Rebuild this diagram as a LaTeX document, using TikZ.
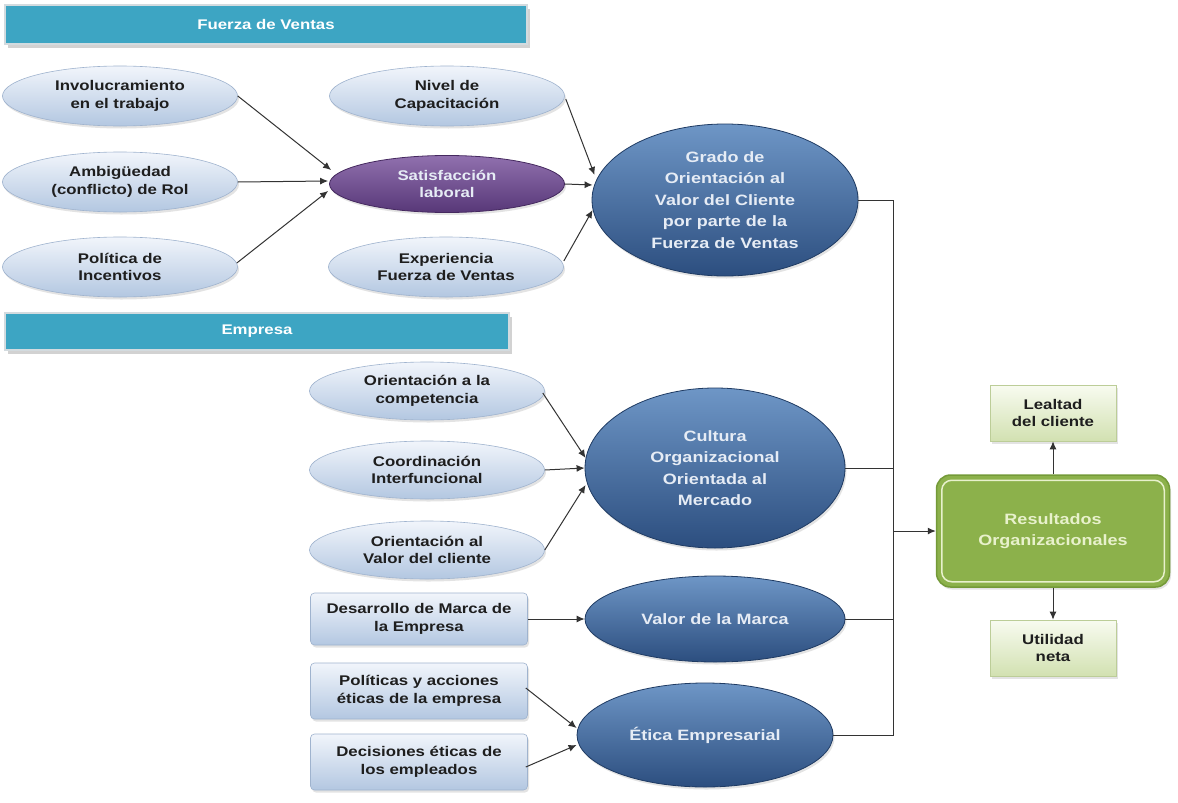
\documentclass[tikz,border=0pt]{standalone}
\usepackage{fontspec}
\setmainfont{Liberation Sans}[FakeStretch=1.2]
\usetikzlibrary{shapes.geometric,arrows.meta,shadows,calc}
\definecolor{hdrteal}{HTML}{3DA5C3}
\definecolor{hdrfrm}{HTML}{D3DBDF}
\definecolor{ltop}{HTML}{F1F5FB}
\definecolor{lbot}{HTML}{B3C7E1}
\definecolor{lbord}{HTML}{9FB3CE}
\definecolor{dtop}{HTML}{6E96C6}
\definecolor{dbot}{HTML}{2C4E7F}
\definecolor{dbord}{HTML}{1F3B63}
\definecolor{dtxt}{HTML}{E6ECF5}
\definecolor{ptop}{HTML}{9070AE}
\definecolor{pbot}{HTML}{583878}
\definecolor{pbord}{HTML}{45295F}
\definecolor{grn}{HTML}{8CB14B}
\definecolor{grnbord}{HTML}{749A38}
\definecolor{grnin}{HTML}{E8F1CC}
\definecolor{gtop}{HTML}{F8FBF0}
\definecolor{gbot}{HTML}{D2E1B1}
\definecolor{gbord}{HTML}{BCCD98}
\definecolor{txtd}{HTML}{1E1E1E}
\definecolor{linec}{HTML}{333333}
\newcommand\lightfnt{\bfseries\fontsize{14}{17.5}\selectfont}
\newcommand\darkfnt{\bfseries\fontsize{15}{21.5}\selectfont}
\newcommand\hdrfnt{\bfseries\fontsize{14}{17}\selectfont}
\begin{document}
\begin{tikzpicture}[x=1pt,y=-1pt,
  softshadow/.style={drop shadow={opacity=0.22, shadow xshift=1.5pt, shadow yshift=-2.5pt}},
  lightell/.style={ellipse, draw=lbord, line width=0.6pt, top color=ltop, bottom color=lbot,
    minimum width=235, minimum height=60, inner sep=0pt, align=center, font=\lightfnt, text=txtd, softshadow},
  lightbox/.style={rectangle, rounded corners=4pt, draw=lbord, line width=0.6pt, top color=ltop, bottom color=lbot,
    minimum width=217, minimum height=54, inner sep=0pt, align=center, font=\lightfnt, text=txtd, softshadow},
  darkell/.style={ellipse, draw=dbord, line width=0.8pt, top color=dtop, bottom color=dbot,
    inner sep=0pt, align=center, font=\darkfnt, text=dtxt, softshadow},
  purpell/.style={ellipse, draw=pbord, line width=0.8pt, top color=ptop, bottom color=pbot,
    minimum width=235, minimum height=57, inner sep=0pt, align=center, font=\lightfnt, text=dtxt, softshadow},
  header/.style={rectangle, fill=hdrteal, draw=hdrfrm, line width=2pt, inner sep=0pt,
    font=\hdrfnt, text=white, drop shadow={opacity=0.35, shadow xshift=3pt, shadow yshift=-4pt}},
  resbox/.style={rectangle, rounded corners=14pt, fill=grn, draw=grnbord, line width=1.5pt,
    minimum width=233, minimum height=112, inner sep=0pt, align=center, font=\darkfnt, text=grnin, softshadow},
  gbox/.style={rectangle, draw=gbord, line width=0.6pt, top color=gtop, bottom color=gbot,
    minimum width=126, minimum height=56, inner sep=0pt, align=center, font=\lightfnt, text=txtd, softshadow},
  arr/.style={draw=linec, line width=1pt, -{Latex[length=8pt,width=7pt]}},
  ln/.style={draw=linec, line width=1pt}
]
\useasboundingbox[fill=white] (0,0) rectangle (1178,803);

% headers
\node[header, minimum width=522, minimum height=39] (hfv) at (266,24.5) {Fuerza de Ventas};
\node[header, minimum width=504, minimum height=37] (hem) at (257,331.5) {Empresa};

% Fuerza de ventas
\node[lightell] (inv) at (120,96) {Involucramiento\\en el trabajo};
\node[lightell] (amb) at (120,182) {Ambigüedad\\(conflicto) de Rol};
\node[lightell] (pol) at (120,267) {Política de\\Incentivos};
\node[lightell] (niv) at (447,96) {Nivel de\\Capacitación};
\node[purpell] (sat) at (447,184) {Satisfacción\\laboral};
\node[lightell] (exp) at (446,267) {Experiencia\\Fuerza de Ventas};
\node[darkell, minimum width=266, minimum height=152] (gra) at (725,200)
  {Grado de\\Orientación al\\Valor del Cliente\\por parte de la\\Fuerza de Ventas};

% Empresa
\node[lightell, minimum height=58] (ocomp) at (427,391) {Orientación a la\\competencia};
\node[lightell, minimum height=58] (coord) at (427,470) {Coordinación\\Interfuncional};
\node[lightell, minimum height=58] (oval) at (427,550) {Orientación al\\Valor del cliente};
\node[darkell, minimum width=260, minimum height=160] (cul) at (715,468)
  {Cultura\\Organizacional\\Orientada al\\Mercado};
\node[lightbox, minimum height=52] (des) at (419,619) {Desarrollo de Marca de\\la Empresa};
\node[darkell, minimum width=260, minimum height=86] (val) at (715,619) {Valor de la Marca};
\node[lightbox, minimum height=56] (pac) at (419,691) {Políticas y acciones\\éticas de la empresa};
\node[lightbox, minimum height=56] (dec) at (419,762) {Decisiones éticas de\\los empleados};
\node[darkell, minimum width=256, minimum height=104] (eti) at (705,735) {Ética Empresarial};

% Results
\node[resbox] (res) at (1053,531) {Resultados\\Organizacionales};
\draw[grnin, line width=1.5pt, rounded corners=10pt]
  ($(res.north west)+(6,6)$) rectangle ($(res.south east)+(-6,-6)$);
\node[gbox] (lea) at (1053,413) {Lealtad\\del cliente};
\node[gbox] (uti) at (1053,648) {Utilidad\\neta};

% connectors into Satisfaccion
\draw[arr] (inv.east) -- ($(sat.west)+(2,-14)$);
\draw[arr] (amb.east) -- ($(sat.west)+(-1,-3)$);
\draw[arr] ($(pol.east)+(-1,-4)$) -- ($(sat.west)+(-1,7)$);
% into Grado
\draw[arr] ($(niv.east)+(1,3)$) -- ($(gra.west)+(3,-25)$);
\draw[arr] (sat.east) -- ($(gra.west)+(1,-15)$ |- sat.east);
\draw[arr] ($(exp.east)+(0,-6)$) -- ($(gra.west)+(1,10)$);
% into Cultura
\draw[arr] ($(ocomp.east)+(-2,2)$) -- ($(cul.west)+(1,-10)$);
\draw[arr] (coord.east) -- (cul.west);
\draw[arr] (oval.east) -- ($(cul.west)+(1,17)$);
% Marca and Etica
\draw[arr] (des.east) -- (val.west);
\draw[arr] ($(pac.east)+(-2,-3)$) -- ($(eti.west)+(0,-7)$);
\draw[arr] ($(dec.east)+(-2,5)$) -- ($(eti.west)+(0,10)$);

% bus to results
\coordinate (bus) at (893,0);
\draw[ln] (gra.east) -- (gra.east -| bus) -- (eti.east -| bus) -- (eti.east);
\draw[ln] (cul.east) -- (cul.east -| bus);
\draw[ln] (val.east) -- (val.east -| bus);
\draw[arr] (res.west -| bus) -- (res.west);
\draw[arr] (res.north) -- (lea.south);
\draw[arr] (res.south) -- (uti.north);
\end{tikzpicture}
\end{document}
